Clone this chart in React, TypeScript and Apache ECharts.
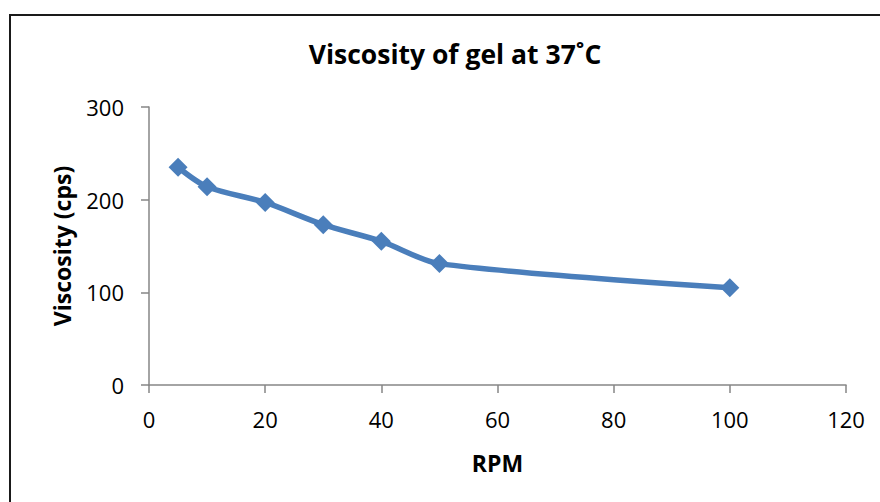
import React, { useEffect, useRef } from "react";
import * as echarts from "echarts";

const rpm = [5, 10, 20, 30, 40, 50, 100];
const viscosity = [235, 214, 197, 173, 155, 131, 105];
const titleText = "Viscosity of gel at 37˚C";
const xName = "RPM";
const yName = "Viscosity (cps)";

export default function App() {
  const ref = useRef<HTMLDivElement>(null);
  useEffect(() => {
    if (!ref.current) return;
    const chart = echarts.init(ref.current, null, { renderer: "svg" });
    const font = "Open Sans";
    chart.setOption({
      animation: false,
      backgroundColor: "#ffffff",
      title: {
        text: titleText,
        left: 450,
        textAlign: "center",
        top: 35,
        textStyle: { fontFamily: font, fontWeight: "bold", fontSize: 26.5, color: "#000" },
      },
      graphic: [
        {
          type: "rect",
          shape: { x: 10, y: 15, width: 900, height: 600 },
          style: { fill: "none", stroke: "#1a1a1a", lineWidth: 2 },
          silent: true,
        },
      ],
      grid: { left: 149, right: 34, top: 107, bottom: 117, containLabel: false },
      xAxis: {
        type: "value",
        min: 0,
        max: 120,
        interval: 20,
        name: xName,
        nameLocation: "middle",
        nameGap: 66,
        nameTextStyle: { fontFamily: font, fontWeight: "bold", fontSize: 23, color: "#000" },
        axisLine: { lineStyle: { color: "#868686", width: 1.5 } },
        axisTick: { show: true, length: 8, lineStyle: { color: "#868686", width: 1.5 } },
        axisLabel: { fontFamily: font, fontSize: 22, color: "#000", margin: 23 },
        splitLine: { show: false },
      },
      yAxis: {
        type: "value",
        min: 0,
        max: 300,
        interval: 100,
        name: yName,
        nameLocation: "middle",
        nameGap: 76,
        nameRotate: 90,
        nameTextStyle: { fontFamily: font, fontWeight: "bold", fontSize: 23, color: "#000" },
        axisLine: { show: true, lineStyle: { color: "#868686", width: 1.5 } },
        axisTick: { show: true, length: 8, lineStyle: { color: "#868686", width: 1.5 } },
        axisLabel: { fontFamily: font, fontSize: 22, color: "#000", margin: 25 },
        splitLine: { show: false },
      },
      series: [
        {
          type: "line",
          data: rpm.map((x, i) => [x, viscosity[i]]),
          smooth: 0.3,
          symbol: "diamond",
          symbolSize: 19,
          lineStyle: { color: "#4a7ebb", width: 5.5 },
          itemStyle: { color: "#4a7ebb" },
        },
      ],
    });
    return () => chart.dispose();
  }, []);
  return (
    <div
      ref={ref}
      style={{ position: "fixed", left: 0, top: 0, width: 880, height: 502 }}
    />
  );
}
